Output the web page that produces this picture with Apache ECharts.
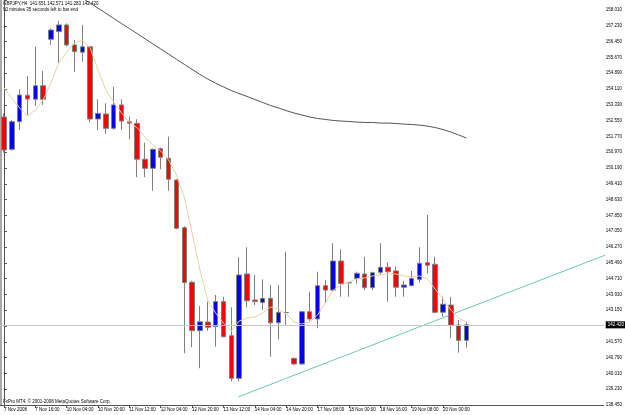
<!DOCTYPE html>
<html>
<head>
<meta charset="utf-8">
<script src="https://cdn.jsdelivr.net/npm/echarts@6/dist/echarts.min.js"></script>
<style>
html, body { margin: 0; padding: 0; background: #fff; }
#chart { width: 625px; height: 415px; }
</style>
</head>
<body>
<div id="chart"></div>
<script>
// GBPJPY H4 bars
var barTimes = [
    '7 Nov 2008', '7 Nov 04:00', '7 Nov 08:00', '7 Nov 12:00', '7 Nov 16:00', '7 Nov 20:00',
    '9 Nov 20:00', '10 Nov 00:00', '10 Nov 04:00', '10 Nov 08:00', '10 Nov 12:00', '10 Nov 16:00',
    '10 Nov 20:00', '11 Nov 00:00', '11 Nov 04:00', '11 Nov 08:00', '11 Nov 12:00', '11 Nov 16:00',
    '11 Nov 20:00', '12 Nov 00:00', '12 Nov 04:00', '12 Nov 08:00', '12 Nov 12:00', '12 Nov 16:00',
    '12 Nov 20:00', '13 Nov 00:00', '13 Nov 04:00', '13 Nov 08:00', '13 Nov 12:00', '13 Nov 16:00',
    '13 Nov 20:00', '14 Nov 00:00', '14 Nov 04:00', '14 Nov 08:00', '14 Nov 12:00', '14 Nov 16:00',
    '14 Nov 20:00', '16 Nov 20:00', '17 Nov 00:00', '17 Nov 04:00', '17 Nov 08:00', '17 Nov 12:00',
    '17 Nov 16:00', '17 Nov 20:00', '18 Nov 00:00', '18 Nov 04:00', '18 Nov 08:00', '18 Nov 12:00',
    '18 Nov 16:00', '18 Nov 20:00', '19 Nov 00:00', '19 Nov 04:00', '19 Nov 08:00', '19 Nov 12:00',
    '19 Nov 16:00', '19 Nov 20:00', '20 Nov 00:00', '20 Nov 04:00', '20 Nov 08:00', '20 Nov 12:00'
];
var opens = [
    152.71, 151.11, 152.48, 153.79, 153.59, 154.26, 156.56, 156.94, 157.27, 156.28,
    155.92, 156.19, 152.61, 152.86, 152.15, 153.31, 152.48, 152.40, 150.62, 150.17,
    151.14, 150.67, 149.59, 147.23, 144.53, 142.13, 142.56, 142.33, 143.57, 141.88,
    139.77, 144.94, 143.65, 143.52, 143.73, 142.52, 143.03, 140.76, 140.48, 143.07,
    142.71, 144.36, 144.14, 145.58, 144.51, 144.72, 144.94, 144.26, 145.02, 145.27,
    145.09, 144.28, 144.36, 144.67, 145.50, 145.42, 143.04, 143.40, 142.41, 141.651
];
var highs = [
    152.90, 152.56, 154.08, 154.74, 156.19, 154.99, 157.10, 157.47, 157.35, 156.52,
    157.27, 156.22, 153.59, 153.39, 154.21, 153.59, 152.73, 152.60, 151.44, 151.15,
    151.20, 151.74, 149.65, 147.30, 144.60, 143.35, 143.57, 143.90, 143.81, 143.29,
    145.77, 146.26, 144.89, 144.67, 144.39, 144.39, 146.04, 140.80, 143.10, 144.06,
    145.05, 144.64, 146.46, 146.16, 144.53, 145.05, 145.79, 145.05, 146.46, 145.50,
    145.30, 144.60, 145.09, 146.26, 147.86, 145.79, 143.81, 143.80, 142.66, 142.571
];
var lows = [
    150.95, 151.04, 152.07, 152.81, 153.26, 153.31, 156.28, 155.37, 156.20, 154.95,
    155.45, 152.45, 152.07, 151.87, 152.07, 152.07, 151.61, 149.73, 149.73, 149.06,
    150.12, 149.06, 147.15, 141.01, 141.31, 140.27, 142.13, 141.34, 141.80, 139.62,
    139.62, 143.29, 143.40, 143.15, 140.84, 141.70, 142.36, 140.45, 140.45, 142.62,
    142.25, 143.49, 144.06, 143.81, 143.81, 144.47, 144.14, 144.14, 144.89, 143.57,
    143.81, 143.81, 144.32, 144.51, 144.97, 142.99, 142.82, 141.75, 141.04, 141.283
];
var closes = [
    151.08, 152.48, 153.80, 153.60, 154.26, 153.59, 157.02, 157.27, 156.28, 155.95,
    156.19, 152.61, 152.89, 152.15, 153.31, 152.51, 152.40, 150.62, 150.17, 151.11,
    150.72, 149.63, 147.20, 144.51, 142.13, 142.57, 142.30, 143.57, 141.83, 139.77,
    144.89, 143.61, 143.57, 143.73, 142.52, 143.04, 143.02, 140.48, 143.07, 142.71,
    144.36, 144.14, 145.58, 144.47, 144.50, 144.97, 144.26, 145.00, 145.27, 145.05,
    144.28, 144.39, 144.72, 145.47, 145.37, 143.04, 143.44, 142.40, 141.65, 142.420
];
// short moving average (tan)
var maFast = [
    154.15, 153.65, 153.16, 152.76, 153.06, 153.55, 154.39, 155.39, 155.93, 156.38,
    156.52, 156.13, 155.04, 154.05, 153.45, 152.91, 152.46, 152.17, 151.72, 151.32,
    151.03, 150.58, 149.84, 148.75, 146.97, 145.13, 143.65, 143.01, 142.51, 142.11,
    142.61, 142.76, 142.81, 143.01, 143.30, 143.20, 142.96, 142.56, 142.46, 142.56,
    142.91, 143.50, 144.14, 144.39, 144.54, 144.69, 144.74, 144.84, 144.89, 144.94,
    144.94, 144.84, 144.79, 144.84, 144.69, 144.19, 143.70, 143.15, 142.76, 142.56
];
// long moving average (dark grey)
var maSlow = [
    null, null, null, null, null, null, null, null, null, null,
    158.60, 158.35, 158.10, 157.85, 157.59, 157.34, 157.09, 156.84, 156.58, 156.33,
    156.08, 155.83, 155.57, 155.32, 155.07, 154.82, 154.59, 154.39, 154.20, 154.02,
    153.87, 153.73, 153.58, 153.43, 153.28, 153.16, 153.03, 152.91, 152.81, 152.71,
    152.64, 152.59, 152.54, 152.51, 152.49, 152.46, 152.44, 152.44, 152.41, 152.41,
    152.39, 152.36, 152.34, 152.31, 152.26, 152.19, 152.09, 151.97, 151.82, 151.67
];
var priceLabels = [
    '138.450', '139.230', '140.010', '140.790', '141.570', '142.350', '143.150',
    '143.930', '144.710', '145.490', '146.270', '147.050', '147.850', '148.630',
    '149.410', '150.190', '150.970', '151.770', '152.550', '153.330', '154.110',
    '154.890', '155.670', '156.450', '157.230', '158.010'
];
var priceMin = 138.45;
var priceStep = 0.7824;
var priceTop = 158.505;
var lastPrice = 142.42;
var emptySlots = 17;
// trend line anchors: [bar index, price]
var trendPoints = [[29.93, 138.86], [59, 143.22]];

var chartDom = document.getElementById('chart');
var myChart = echarts.init(chartDom);

var categories = barTimes.concat(new Array(emptySlots).fill(''));
var candles = [];
for (var i = 0; i < opens.length; i++) {
    candles.push([opens[i], closes[i], lows[i], highs[i]]);
}
// trend line is a ray: extend past the right edge, the grid clips it
var slope = (trendPoints[1][1] - trendPoints[0][1]) / (trendPoints[1][0] - trendPoints[0][0]);
var rayEnd = 80;
var trendData = [trendPoints[0], [rayEnd, trendPoints[0][1] + slope * (rayEnd - trendPoints[0][0])]];

function showTimeLabel(index, value) {
    return value !== '' && index % 4 === 0;
}

var font = 'Liberation Sans';

option = {
    animation: false,
    backgroundColor: '#ffffff',
    grid: { left: -2, right: 19, top: 0, bottom: 10 },
    xAxis: [{
        type: 'category',
        data: categories,
        boundaryGap: true,
        axisLine: { show: true, lineStyle: { color: '#555', width: 1 } },
        axisTick: { show: true, alignWithLabel: true, interval: showTimeLabel, length: 3, lineStyle: { color: '#555' } },
        axisLabel: { interval: showTimeLabel, align: 'left', margin: 2, fontSize: 4.5, color: '#000', fontFamily: font },
        splitLine: { show: false }
    }, {
        type: 'value',
        min: -0.5,
        max: categories.length - 0.5,
        show: false
    }],
    yAxis: {
        type: 'value',
        position: 'right',
        min: priceMin,
        max: priceTop,
        interval: priceStep,
        axisLine: { show: true, lineStyle: { color: '#555', width: 1 } },
        axisTick: { show: true, length: 3, lineStyle: { color: '#555' } },
        axisLabel: {
            margin: 2, fontSize: 4.5, color: '#000', fontFamily: font,
            formatter: function (v) {
                var k = Math.round((v - priceMin) / priceStep);
                if (k < 0 || k >= priceLabels.length) return '';
                if (Math.abs(v - priceMin - k * priceStep) > 0.01) return '';
                return priceLabels[k];
            }
        },
        splitLine: { show: false }
    },
    series: [{
        name: 'maSlow',
        type: 'line',
        data: maSlow,
        symbol: 'none',
        clip: true,
        lineStyle: { color: '#555555', width: 1 },
        z: 1
    }, {
        name: 'trend',
        type: 'line',
        xAxisIndex: 1,
        data: trendData,
        symbol: 'none',
        clip: true,
        lineStyle: { color: '#66cdaa', width: 1 },
        z: 1
    }, {
        name: 'GBPJPY',
        type: 'candlestick',
        data: candles,
        barWidth: 5,
        itemStyle: {
            color: '#0000ff',
            color0: '#ff0000',
            borderColor: '#808080',
            borderColor0: '#808080',
            borderWidth: 1
        },
        markLine: {
            silent: true,
            symbol: 'none',
            data: [{ yAxis: lastPrice }],
            lineStyle: { color: '#c8c8c8', width: 1, type: 'solid' },
            label: {
                show: true, position: 'end', distance: 2,
                formatter: lastPrice.toFixed(3),
                backgroundColor: '#000', color: '#fff',
                fontSize: 4.5, fontFamily: font, padding: [1, 2, 1, 2]
            }
        },
        z: 2
    }, {
        name: 'maFast',
        type: 'line',
        data: maFast,
        symbol: 'none',
        lineStyle: { color: '#e6d3a8', width: 1 },
        z: 3
    }],
    graphic: [{
        type: 'line',
        shape: { x1: 1, y1: 0, x2: 1, y2: 405 },
        style: { stroke: '#555', lineWidth: 1 }
    }, {
        type: 'text', left: 3, top: 1,
        style: { text: 'GBPJPY,H4  141.651 142.571 141.283 142.420', fontSize: 4.5, fontFamily: font, fill: '#000' }
    }, {
        type: 'text', left: 3, top: 7,
        style: { text: '90 minutes 35 seconds left to bar end', fontSize: 4.5, fontFamily: font, fill: '#000' }
    }, {
        type: 'text', left: 3, top: 399,
        style: { text: 'FxPro MT4, \u00a9 2001-2008 MetaQuotes Software Corp.', fontSize: 4.5, fontFamily: font, fill: '#000' }
    }]
};

myChart.setOption(option);
</script>
</body>
</html>
